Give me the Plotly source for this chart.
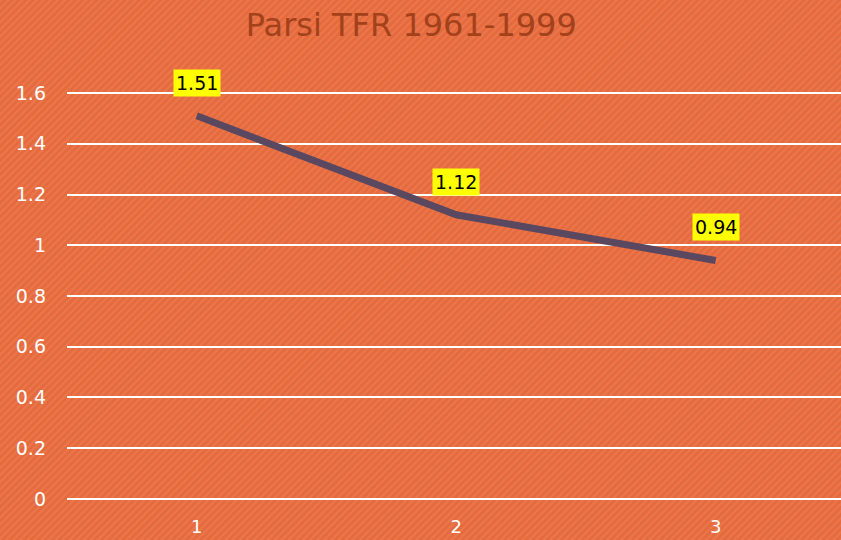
import base64
import plotly.graph_objects as go

categories = [1, 2, 3]
tfr_values = [1.51, 1.12, 0.94]
label_texts = ["1.51", "1.12", "0.94"]
y_ticks = [0, 0.2, 0.4, 0.6, 0.8, 1.0, 1.2, 1.4, 1.6]
y_tick_labels = ["0", "0.2", "0.4", "0.6", "0.8", "1", "1.2", "1.4", "1.6"]

BG = "#E56B3F"
W, H = 841, 540
ML, MR, MT, MB = 67, 0, 92, 40

svg = (
    f'<svg xmlns="http://www.w3.org/2000/svg" width="{W}" height="{H}">'
    '<defs><pattern id="p" width="5" height="5" patternUnits="userSpaceOnUse" '
    'patternTransform="rotate(45)">'
    f'<rect width="5" height="5" fill="{BG}"/>'
    '<rect width="2" height="5" fill="#EA774B"/></pattern></defs>'
    f'<rect width="{W}" height="{H}" fill="url(#p)"/></svg>'
)
bg_uri = "data:image/svg+xml;base64," + base64.b64encode(svg.encode()).decode()

pw = W - ML - MR
ph = H - MT - MB

fig = go.Figure()
fig.add_trace(go.Scatter(
    x=categories, y=tfr_values, mode="lines",
    line=dict(color="#5A4760", width=7), hoverinfo="skip", showlegend=False,
))
for c, v, t in zip(categories, tfr_values, label_texts):
    fig.add_annotation(x=c, y=v, text=t, showarrow=False, yshift=33,
                       bgcolor="#FFFF00", borderpad=2,
                       font=dict(family="DejaVu Sans", size=19, color="black"))

fig.add_layout_image(dict(
    source=bg_uri, xref="paper", yref="paper",
    x=-ML / pw, y=1 + MT / ph, sizex=W / pw, sizey=H / ph,
    xanchor="left", yanchor="top", sizing="stretch", layer="below",
))

fig.update_layout(
    width=W, height=H,
    paper_bgcolor=BG, plot_bgcolor="rgba(0,0,0,0)",
    margin=dict(l=ML, r=MR, t=MT, b=MB),
    title=dict(text="Parsi TFR 1961-1999", x=0.489, xanchor="center", y=0.955, yanchor="middle",
               font=dict(family="DejaVu Sans", size=32, color="#A3411A")),
    xaxis=dict(range=[0.5, 3.483], tickvals=categories, ticktext=[str(c) for c in categories],
               showgrid=False, zeroline=False, showline=False, ticks="",
               tickfont=dict(family="DejaVu Sans", size=18, color="white"), ticklabelstandoff=14),
    yaxis=dict(range=[-0.004, 1.604], tickvals=y_ticks, ticktext=y_tick_labels,
               showgrid=True, gridcolor="white", gridwidth=2, zeroline=True, zerolinecolor="white",
               zerolinewidth=2, showline=False, ticks="",
               tickfont=dict(family="DejaVu Sans", size=19, color="white"), ticklabelstandoff=20),
)
fig.write_html("out.html", config={"displayModeBar": False},
               post_script="document.body.style.margin='0';document.body.style.background='%s';" % BG)
